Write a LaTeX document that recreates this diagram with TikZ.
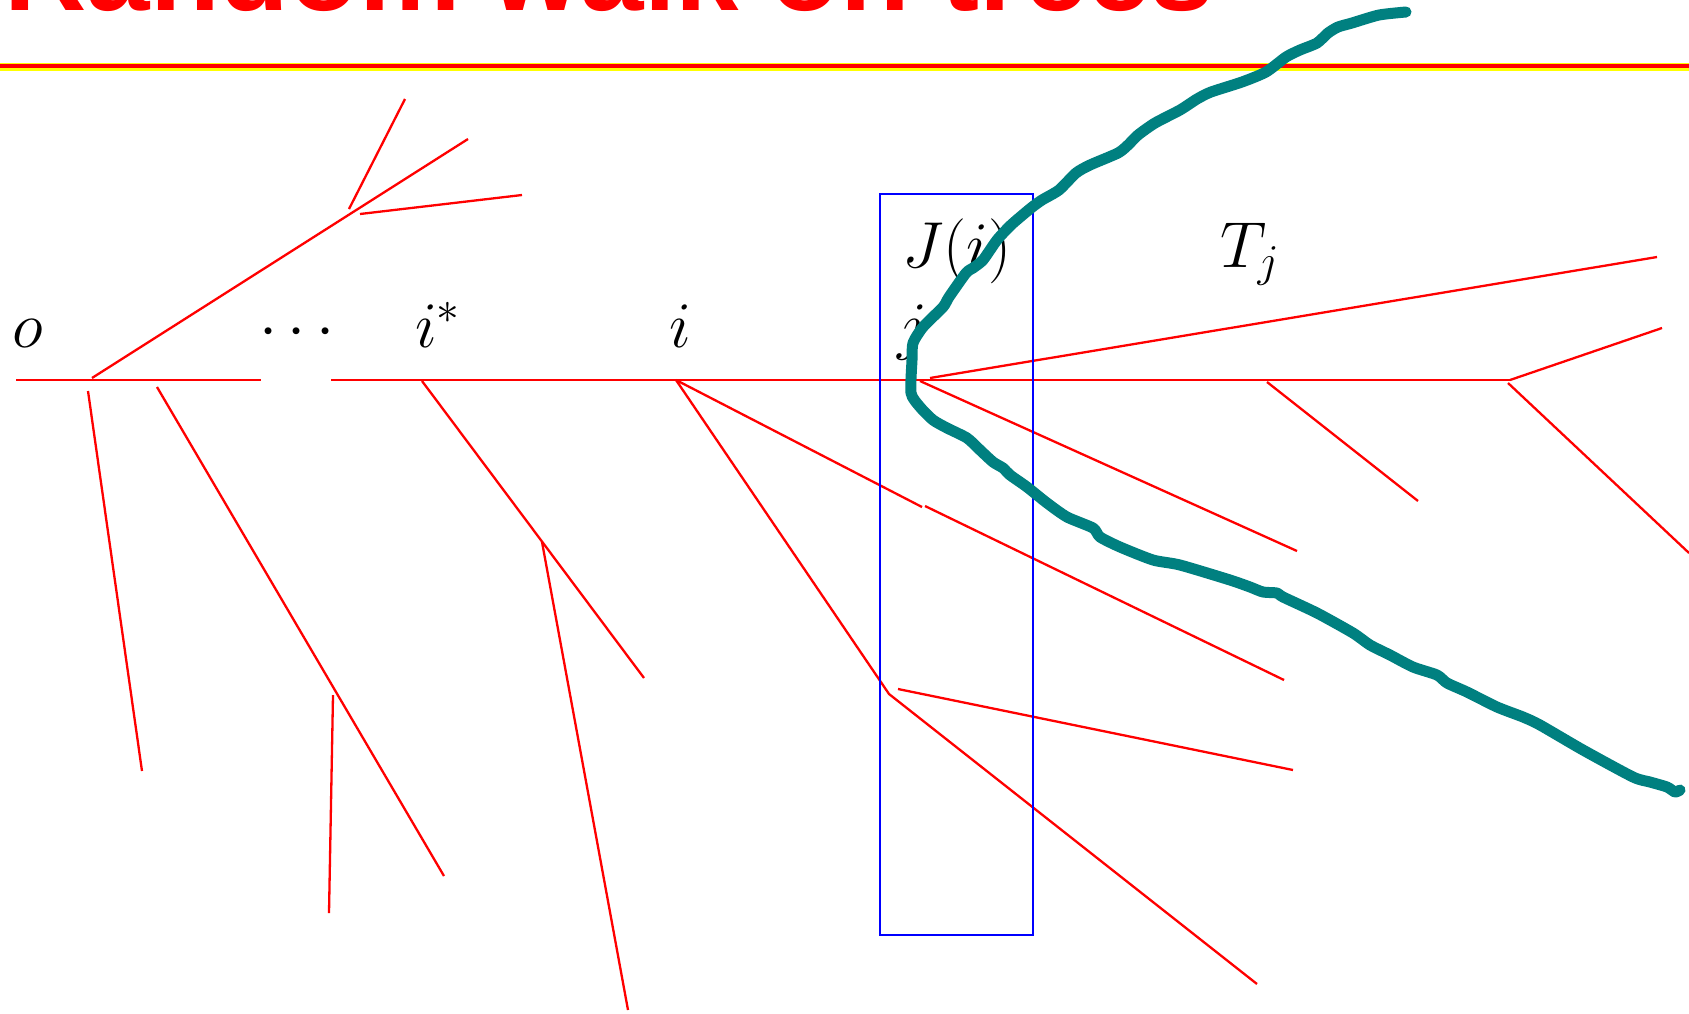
\documentclass[tikz,border=0pt]{standalone}
\usepackage{fix-cm}
\usepackage{fontspec}
\usepackage{tikz}
\usetikzlibrary{positioning}
\newfontfamily\headfont{Liberation Sans}
\definecolor{RWRed}   {HTML}{FF0000}
\definecolor{RWBlue}  {HTML}{0000FF}
\definecolor{RWTeal}  {HTML}{008080}
\definecolor{RWYellow}{HTML}{FFFF00}

\begin{document}
\begin{tikzpicture}[x=0.5pt,y=-0.5pt,
    edge/.style={draw=RWRed,line width=1.15pt},
    walk/.style={draw=RWTeal,line width=5.5pt,line cap=round,line join=round},
    box/.style={draw=RWBlue,line width=1.3pt},
    lbl/.style={anchor=base,inner sep=0pt,font=\fontsize{32.5}{39}\selectfont},
    hd/.style={anchor=base west,inner sep=0pt,text=RWRed,font=\headfont\bfseries\fontsize{57}{68}\selectfont}
  ]
    \clip (0,0) rectangle (1689,1013);
    \fill[white] (0,0) rectangle (1689,1013);
    \node[hd](title) at (4,10) {Random walk on trees};
    \draw[RWYellow,line width=4pt](0,66.5)--(1689,66.5);
    \draw[RWRed,line width=1.75pt](0,66)--(1689,66);
    \draw[edge](16,380)--(261,380);
    \draw[edge](331,380)--(1511,380);
    \draw[edge](92,378)--(468,139);
    \draw[edge](349,209)--(405,99);
    \draw[edge](360,214)--(522,195);
    \draw[edge](88,391)--(142,771);
    \draw[edge](157,387)--(444,876);
    \draw[edge](333,695)--(329,913);
    \draw[edge](422,381)--(644,678);
    \draw[edge](542,542)--(628,1010);
    \draw[edge](676,380)--(922,507);
    \draw[edge](676,380)--(889,694)--(1257,984);
    \draw[edge](898,689)--(1293,770);
    \draw[edge](925,506)--(1284,680);
    \draw[edge](920,381)--(1297,551);
    \draw[edge](930,378)--(1657,257);
    \draw[edge](1267,382)--(1418,501);
    \draw[edge](1510,380)--(1662,328);
    \draw[edge](1508,383)--(1689,553);
    \draw[box](880,194) rectangle (1033,935);
    \node[lbl](o) at (28,347) {$o$};
    \node[lbl](dots) at (297,347) {$\cdots$};
    \node[lbl](istar) at (438,347) {$i^*$};
    \node[lbl](i) at (680,347) {$i$};
    \node[lbl](j) at (912,347) {$j$};
    \node[lbl](Ji) at (957,267) {$J(i)$};
    \node[lbl](Tj) at (1250,267) {$T_j$};
    \draw[walk] plot[smooth,tension=0.4] coordinates {
      (1406,12) (1379,15) (1352,23) (1338,27) (1328,33) (1317,43) (1300,50)
      (1286,57) (1266,72) (1242,82) (1211,92) (1197,99) (1180,110) (1155,123)
      (1138,135) (1128,145) (1118,153) (1090,165) (1076,173) (1059,190)
      (1042,200) (1031,208) (1011,225) (997,240) (983,260) (973,268) (966,273)
      (949,297) (943,307) (923,327) (913,343) (912,360) (911,393) (920,407)
      (933,420) (947,428) (967,438) (980,450) (993,462) (1003,468) (1010,475)
      (1027,487) (1047,503) (1067,517) (1093,528) (1100,537) (1120,547)
      (1153,560) (1180,565) (1230,580) (1250,587) (1263,592) (1277,593)
      (1283,597) (1317,613) (1353,633) (1370,645) (1390,655) (1413,667)
      (1437,675) (1447,683) (1467,692) (1497,707) (1523,717) (1540,725)
      (1583,750) (1633,777) (1650,782) (1667,787) (1675,792) (1680,790)};
\end{tikzpicture}
\end{document}
